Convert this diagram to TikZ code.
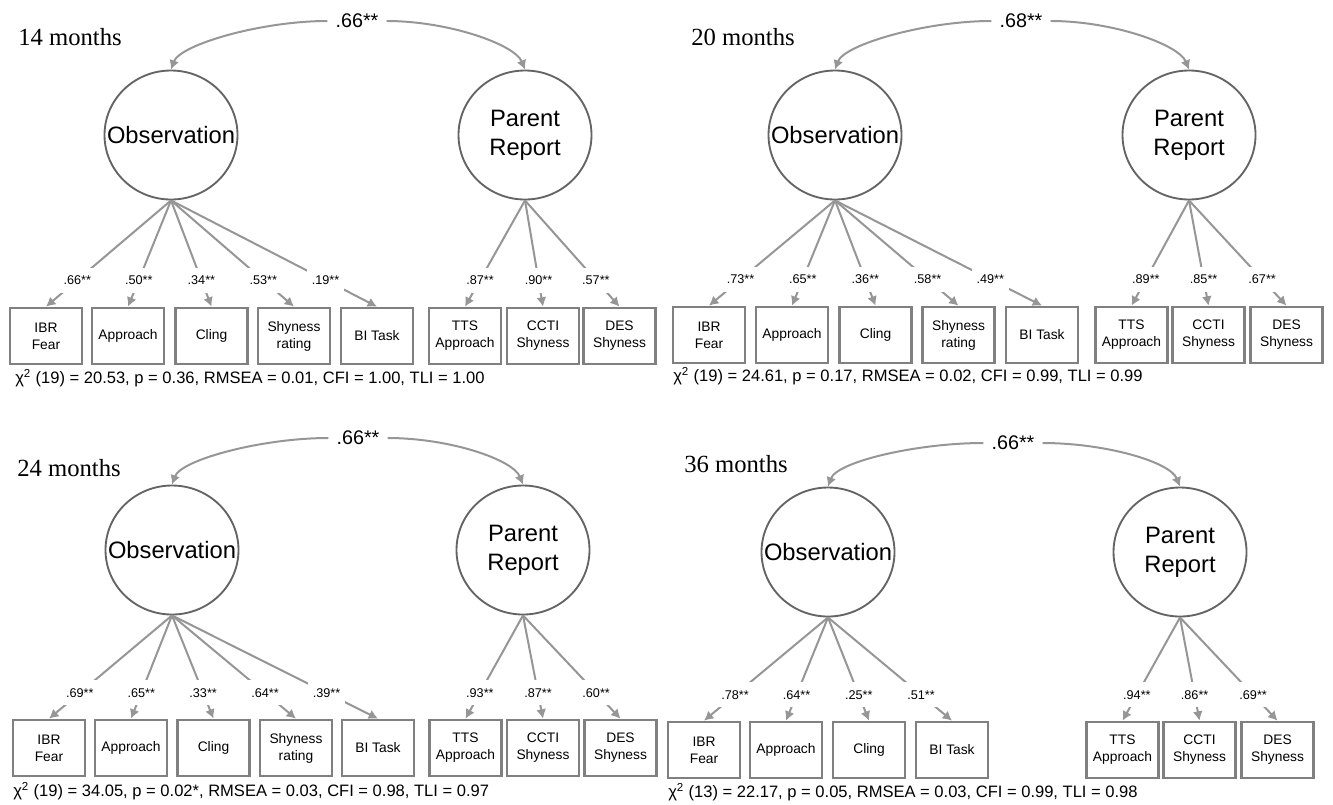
\documentclass[tikz,border=0pt]{standalone}
\usepackage{fontspec}
\setmainfont{Liberation Sans}
\newfontfamily\timesfont{Liberation Serif}
\usetikzlibrary{arrows.meta,shapes.geometric}
\definecolor{linegray}{RGB}{150,150,150}
\definecolor{ringgray}{RGB}{100,100,100}
\definecolor{boxgray}{RGB}{128,128,128}

\begin{document}
\begin{tikzpicture}[x=0.75pt,y=-0.75pt,
  latent/.style={ellipse,draw=ringgray,line width=1.4pt,minimum width=99.75pt,minimum height=96.75pt,inner sep=0pt},
  lattext/.style={font=\fontsize{17.8}{21.8}\selectfont,align=center},
  ind/.style={draw=boxgray,line width=2pt,minimum width=54pt,minimum height=42pt,inner sep=0pt,align=center,font=\fontsize{10.35}{12.8}\selectfont},
  link/.style={draw=linegray,line width=1.5pt,-{Latex[length=7pt,width=7.5pt]}},
  load/.style={fill=white,inner xsep=3.5pt,inner ysep=6pt,font=\fontsize{9.5}{11}\selectfont},
  cor/.style={inner xsep=6pt,inner ysep=2pt,font=\fontsize{14.8}{17}\selectfont},
  months/.style={anchor=base west,inner sep=0pt,font=\timesfont\fontsize{18.5}{22}\selectfont},
  fitline/.style={anchor=base west,inner sep=0pt,font=\fontsize{12.4}{15}\selectfont}]
\useasboundingbox (0,0) rectangle (1333,804);

% 14 months
\node[months] (mA) at (18,45) {14 months};
\node[latent,label={[lattext]center:Observation}] (obsA) at (171,135) {};
\node[latent,label={[lattext]center:Parent\\Report}] (parA) at (525,135) {};
\node[cor] (corA) at (357,21) {.66**};
\draw[link] (corA.west) .. controls +(-66,0) and +(9,-25) .. (obsA.north);
\draw[link] (corA.east) .. controls +(62,0) and +(-10,-25) .. (parA.north);
\foreach \x/\n/\txt/\ld in {46/1/{IBR\\Fear}/.66, 128/2/Approach/.50, 211.5/3/Cling/.34, 294/4/{Shyness\\rating}/.53, 377/5/BI Task/.19}{
  \node[ind] (a\n) at (\x,336) {\txt};
  \draw[link] (obsA.south) -- node[load,pos=0.75] {\ld**} (a\n.north);
}
\foreach \x/\n/\txt/\ld in {465/6/{TTS\\Approach}/.87, 543/7/{CCTI\\Shyness}/.90, 619.5/8/{DES\\Shyness}/.57}{
  \node[ind] (a\n) at (\x,336) {\txt};
  \draw[link] (parA.south) -- node[load,pos=0.75] {\ld**} (a\n.north);
}
\node[fitline] (fitA) at (15,383) {χ\textsuperscript{2} (19) = 20.53, p = 0.36, RMSEA = 0.01, CFI = 1.00, TLI = 1.00};

% 20 months
\node[months] (mB) at (691,45) {20 months};
\node[latent,label={[lattext]center:Observation}] (obsB) at (835,135) {};
\node[latent,label={[lattext]center:Parent\\Report}] (parB) at (1189,135) {};
\node[cor] (corB) at (1021,21) {.68**};
\draw[link] (corB.west) .. controls +(-66,0) and +(9,-25) .. (obsB.north);
\draw[link] (corB.east) .. controls +(62,0) and +(-10,-25) .. (parB.north);
\foreach \x/\n/\txt/\ld in {709/1/{IBR\\Fear}/.73, 792/2/Approach/.65, 875.5/3/Cling/.36, 958.5/4/{Shyness\\rating}/.58, 1042/5/BI Task/.49}{
  \node[ind] (b\n) at (\x,335) {\txt};
  \draw[link] (obsB.south) -- node[load,pos=0.75] {\ld**} (b\n.north);
}
\foreach \x/\n/\txt/\ld in {1131.5/6/{TTS\\Approach}/.89, 1208.5/7/{CCTI\\Shyness}/.85, 1286.5/8/{DES\\Shyness}/.67}{
  \node[ind] (b\n) at (\x,335) {\txt};
  \draw[link] (parB.south) -- node[load,pos=0.75] {\ld**} (b\n.north);
}
\node[fitline] (fitB) at (673,381) {χ\textsuperscript{2} (19) = 24.61, p = 0.17, RMSEA = 0.02, CFI = 0.99, TLI = 0.99};

% 24 months
\node[months] (mC) at (17,476) {24 months};
\node[latent,label={[lattext]center:Observation}] (obsC) at (172,550) {};
\node[latent,label={[lattext]center:Parent\\Report}] (parC) at (523,550) {};
\node[cor] (corC) at (358,438) {.66**};
\draw[link] (corC.west) .. controls +(-66,0) and +(9,-25) .. (obsC.north);
\draw[link] (corC.east) .. controls +(62,0) and +(-10,-25) .. (parC.north);
\foreach \x/\n/\txt/\ld in {49/1/{IBR\\Fear}/.69, 131/2/Approach/.65, 213.5/3/Cling/.33, 296/4/{Shyness\\rating}/.64, 378/5/BI Task/.39}{
  \node[ind] (c\n) at (\x,748) {\txt};
  \draw[link] (obsC.south) -- node[load,pos=0.75] {\ld**} (c\n.north);
}
\foreach \x/\n/\txt/\ld in {465.5/6/{TTS\\Approach}/.93, 543/7/{CCTI\\Shyness}/.87, 620.5/8/{DES\\Shyness}/.60}{
  \node[ind] (c\n) at (\x,748) {\txt};
  \draw[link] (parC.south) -- node[load,pos=0.75] {\ld**} (c\n.north);
}
\node[fitline] (fitC) at (13,796) {χ\textsuperscript{2} (19) = 34.05, p = 0.02*, RMSEA = 0.03, CFI = 0.98, TLI = 0.97};

% 36 months
\node[months] (mD) at (684,472) {36 months};
\node[latent,label={[lattext]center:Observation}] (obsD) at (828,552) {};
\node[latent,label={[lattext]center:Parent\\Report}] (parD) at (1180,552) {};
\node[cor] (corD) at (1013,443) {.66**};
\draw[link] (corD.west) .. controls +(-66,0) and +(9,-25) .. (obsD.north);
\draw[link] (corD.east) .. controls +(62,0) and +(-10,-25) .. (parD.north);
\foreach \x/\n/\txt/\ld in {704/1/{IBR\\Fear}/.78, 786/2/Approach/.64, 869/3/Cling/.25, 952/4/BI Task/.51}{
  \node[ind] (d\n) at (\x,750) {\txt};
  \draw[link] (obsD.south) -- node[load,pos=0.75] {\ld**} (d\n.north);
}
\foreach \x/\n/\txt/\ld in {1122.5/5/{TTS\\Approach}/.94, 1199.5/6/{CCTI\\Shyness}/.86, 1277.5/7/{DES\\Shyness}/.69}{
  \node[ind] (d\n) at (\x,750) {\txt};
  \draw[link] (parD.south) -- node[load,pos=0.75] {\ld**} (d\n.north);
}
\node[fitline] (fitD) at (668,797) {χ\textsuperscript{2} (13) = 22.17, p = 0.05, RMSEA = 0.03, CFI = 0.99, TLI = 0.98};
\end{tikzpicture}
\end{document}
